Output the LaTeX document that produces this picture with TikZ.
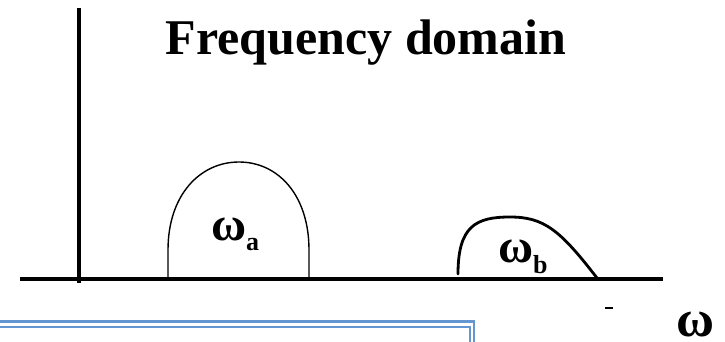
\documentclass[tikz,border=0pt]{standalone}
\usepackage{fontspec}
\setmainfont{Liberation Serif}
\definecolor{frameblue}{RGB}{100,150,210}
\begin{document}
\begin{tikzpicture}[x=1pt,y=-1pt,
  axis/.style={line width=4pt},
  humpa/.style={line width=1.4pt},
  humpb/.style={line width=2.8pt, line cap=round},
  lbl/.style={inner sep=0pt, anchor=base west, font=\bfseries},
  dbl/.style={draw=frameblue, line width=2.4pt}]
\useasboundingbox (0,0) rectangle (725,342);
% axes
\coordinate (vtop) at (79,8);
\coordinate (vbot) at (79,283);
\coordinate (hl) at (20,279);
\coordinate (hr) at (663,279);
\draw[axis] (vtop) -- (vbot);
\draw[axis] (hl) -- (hr);
% humps
\coordinate (a1) at (168,279);
\coordinate (a2) at (309,279);
\draw[humpa] (a1) -- (168,250) .. controls (168,195) and (200,162) .. (239,162)
  .. controls (278,162) and (309,195) .. (309,250) -- (a2);
\coordinate (b1) at (458,274);
\coordinate (b2) at (597,278);
\draw[humpb] (b1) .. controls (458,226) and (476,217) .. (510,217)
  .. controls (544,217) and (560,230) .. (b2);
% labels
\node[lbl, font=\bfseries\fontsize{48}{48}\selectfont] (wa) at (211,240) {ω};
\node[lbl, font=\bfseries\fontsize{26}{26}\selectfont] (sa) at (246,250) {a};
\node[lbl, font=\bfseries\fontsize{48}{48}\selectfont] (wb) at (498,262) {ω};
\node[lbl, font=\bfseries\fontsize{26}{26}\selectfont] (sb) at (533,273) {b};
\node[lbl, font=\bfseries\fontsize{52}{52}\selectfont] (w) at (676,336) {ω};
\node[inner sep=0pt, anchor=base, font=\bfseries\fontsize{50}{50}\selectfont] (title) at (366,55) {Frequency domain};
% small dash
\coordinate (d1) at (605,308);
\coordinate (d2) at (613,308);
\draw[line width=1.5pt] (d1) -- (d2);
% blue double frame
\coordinate (o1) at (0,321.5);
\coordinate (o2) at (474,321.5);
\coordinate (o3) at (474,342);
\coordinate (i1) at (0,327);
\coordinate (i2) at (470,327);
\coordinate (i3) at (470,342);
\draw[dbl] (o1) -- (o2) -- (o3);
\draw[dbl, line width=2pt] (i1) -- (i2) -- (i3);
\end{tikzpicture}
\end{document}
